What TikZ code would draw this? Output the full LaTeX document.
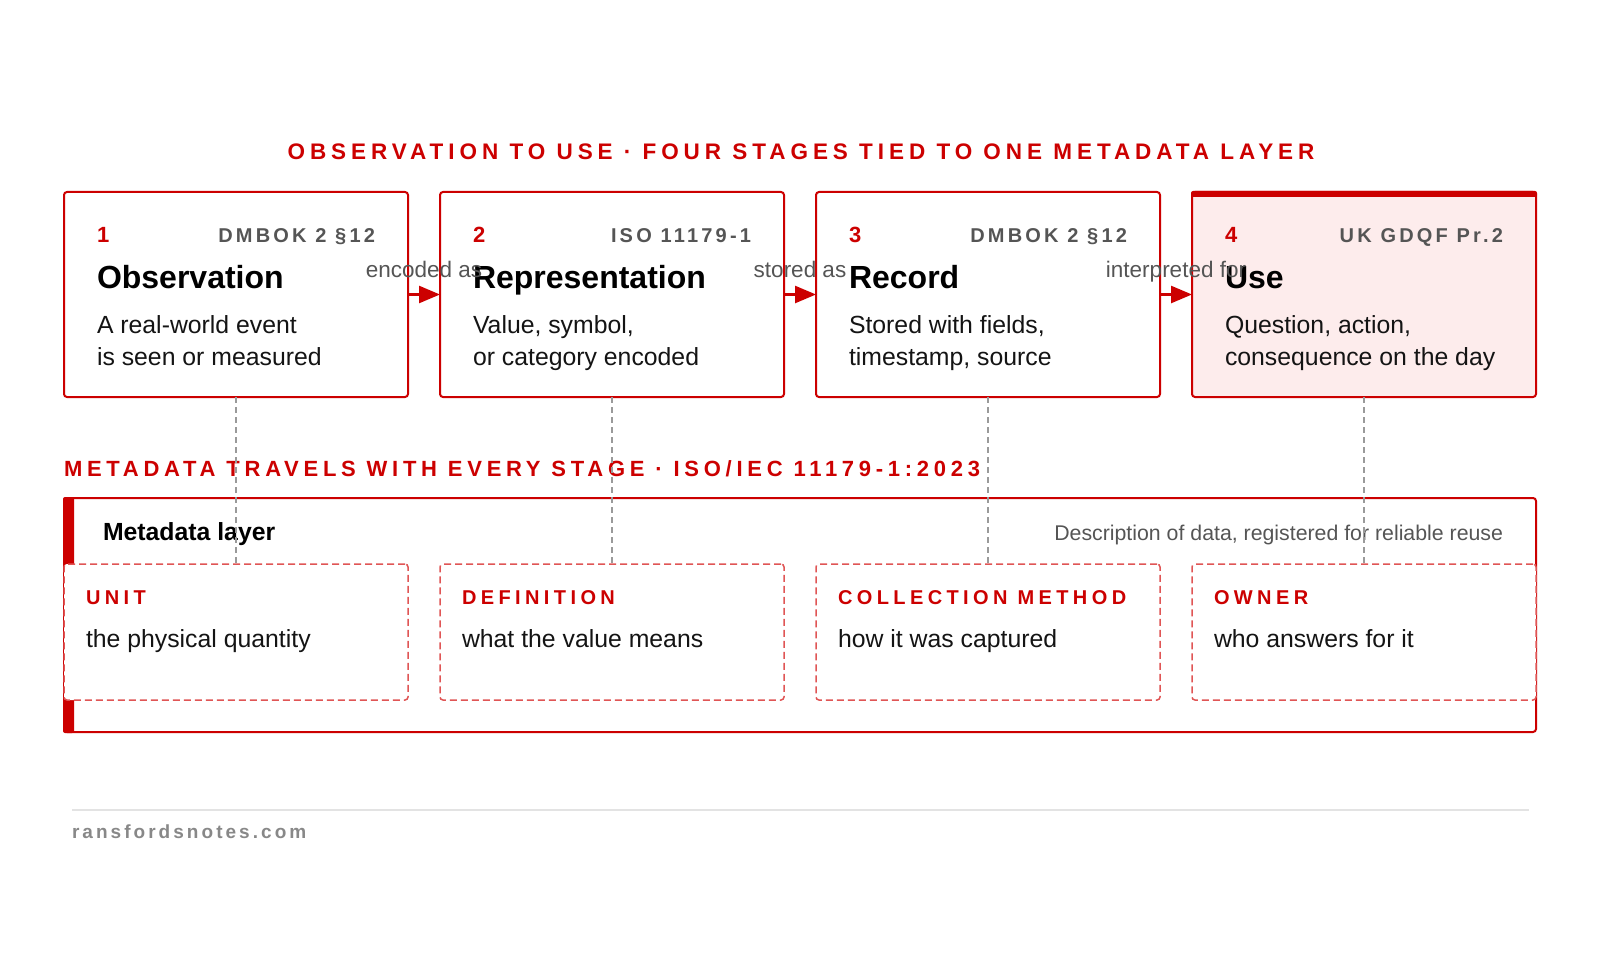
\documentclass[tikz,border=0pt]{standalone}
\usepackage{fontspec}
\setmainfont{Liberation Sans}
\newfontfamily\trackA[LetterSpace=22]{Liberation Sans}
\newfontfamily\trackE[LetterSpace=21.5]{Liberation Sans}
\newfontfamily\trackB[LetterSpace=16]{Liberation Sans}
\newfontfamily\trackC[LetterSpace=22]{Liberation Sans}
\newfontfamily\trackD[LetterSpace=16]{Liberation Sans}
\usetikzlibrary{arrows.meta}
\definecolor{brand}{HTML}{CC0000}
\definecolor{tagg}{HTML}{555555}
\definecolor{pinkf}{HTML}{FDECEC}
\definecolor{dashr}{HTML}{E05555}
\definecolor{vline}{HTML}{9A9A9A}
\definecolor{foot}{HTML}{888888}
\definecolor{rulec}{HTML}{E3E3E3}
\newcommand\fsz[1]{\fontsize{#1}{#1}\selectfont}
\begin{document}
\begin{tikzpicture}[x=1pt,y=-1pt,
  every node/.style={inner sep=0pt, outer sep=0pt},
  stagebox/.style={draw=brand, line width=2pt, rounded corners=3pt, fill=white,
    minimum width=344pt, minimum height=205pt, anchor=north west},
  numtxt/.style={anchor=base west, text=brand, font=\fsz{22}\bfseries},
  tagtxt/.style={anchor=base east, text=tagg, font=\trackB\fsz{20}\bfseries},
  headtxt/.style={anchor=base west, text=black, font=\fsz{32}\bfseries},
  bodytxt/.style={anchor=base west, text=black!92, font=\fsz{24.8}},
  flowlbl/.style={anchor=base, text=tagg, font=\fsz{22.5}},
  flowarrow/.style={draw=brand, line width=2.5pt, -{Triangle[length=21pt,width=17pt]}},
  sectitle/.style={text=brand, font=\fsz{22}\bfseries},
  metabox/.style={draw=brand, line width=2pt, rounded corners=3pt, fill=white,
    minimum width=1472pt, minimum height=234pt, anchor=north west},
  slotbox/.style={draw=dashr, line width=1.5pt, dash pattern=on 7pt off 4pt,
    rounded corners=3pt, fill=white, minimum width=344pt, minimum height=136pt, anchor=north west},
  slotlbl/.style={anchor=base west, text=brand, font=\trackC\fsz{20}\bfseries},
  linkline/.style={draw=vline, line width=1.5pt, dash pattern=on 6pt off 4pt},
]
\useasboundingbox (0,0) rectangle (1600,960);
\fill[white] (0,0) rectangle (1600,960);

% titles
\node[sectitle, anchor=base, font=\trackA\fsz{22.5}\bfseries] (t1) at (801,160) {OBSERVATION TO USE · FOUR STAGES TIED TO ONE METADATA LAYER};
\node[sectitle, anchor=base west, font=\trackE\fsz{22}\bfseries] (t2) at (64,476) {METADATA TRAVELS WITH EVERY STAGE · ISO/IEC 11179-1:2023};

% stage boxes
\node[stagebox] (s1) at (64,192) {};
\node[stagebox] (s2) at (440,192) {};
\node[stagebox] (s3) at (816,192) {};
\node[stagebox, fill=pinkf] (s4) at (1192,192) {};
\fill[brand, rounded corners=2pt] ([xshift=-1pt,yshift=1pt]s4.north west) rectangle ([xshift=1pt,yshift=-5pt]s4.north east);

% stage texts
\foreach \L/\n/\tg/\hd/\ba/\bb [count=\i] in {
  64/1/{DMBOK 2 §12}/Observation/{A real-world event}/{is seen or measured},
  440/2/{ISO 11179-1}/Representation/{Value, symbol,}/{or category encoded},
  816/3/{DMBOK 2 §12}/Record/{Stored with fields,}/{timestamp, source},
  1192/4/{UK GDQF Pr.2}/Use/{Question, action,}/{consequence on the day}}{
  \node[numtxt] (n\i) at (\L+33,242) {\n};
  \node[tagtxt] (g\i) at (\L+344-33,242) {\tg};
  \node[headtxt] (h\i) at (\L+33,288) {\hd};
  \node[bodytxt] (ba\i) at (\L+33,333) {\ba};
  \node[bodytxt] (bb\i) at (\L+33,365) {\bb};
}

% flow arrows and labels
\draw[flowarrow] (s1.east) -- (s2.west);
\draw[flowarrow] (s2.east) -- (s3.west);
\draw[flowarrow] (s3.east) -- (s4.west);
\node[flowlbl] (l1) at (424,277) {encoded as};
\node[flowlbl] (l2) at (800,277) {stored as};
\node[flowlbl] (l3) at (1176,277) {interpreted for};

% metadata layer
\node[metabox] (meta) at (64,498) {};
\fill[brand, rounded corners=2pt] ([xshift=-1pt,yshift=1pt]meta.north west) rectangle ([xshift=10pt,yshift=-1pt]meta.south west);
\node[anchor=base west, font=\fsz{24.8}\bfseries] (mt) at (103,540) {Metadata layer};
\node[anchor=base east, text=tagg, font=\fsz{21.3}] (md) at (1503,540) {Description of data, registered for reliable reuse};

% slot boxes
\node[slotbox] (u1) at (64,564) {};
\node[slotbox] (u2) at (440,564) {};
\node[slotbox] (u3) at (816,564) {};
\node[slotbox] (u4) at (1192,564) {};

% link lines
\draw[linkline] (s1.south) -- (u1.north);
\draw[linkline] (s2.south) -- (u2.north);
\draw[linkline] (s3.south) -- (u3.north);
\draw[linkline] (s4.south) -- (u4.north);

\foreach \L/\lb/\tx [count=\i] in {
  64/UNIT/{the physical quantity},
  440/DEFINITION/{what the value means},
  816/COLLECTION METHOD/{how it was captured},
  1192/OWNER/{who answers for it}}{
  \node[slotlbl] (k\i) at (\L+22,604) {\lb};
  \node[bodytxt] (v\i) at (\L+22,647) {\tx};
}

% footer
\coordinate (f1) at (72,810);
\coordinate (f2) at (1529,810);
\draw[rulec, line width=1.5pt] (f1) -- (f2);
\node[anchor=base west, text=foot, font=\trackD\fsz{19}\bfseries] (ft) at (72,838) {ransfordsnotes.com};
\end{tikzpicture}
\end{document}
